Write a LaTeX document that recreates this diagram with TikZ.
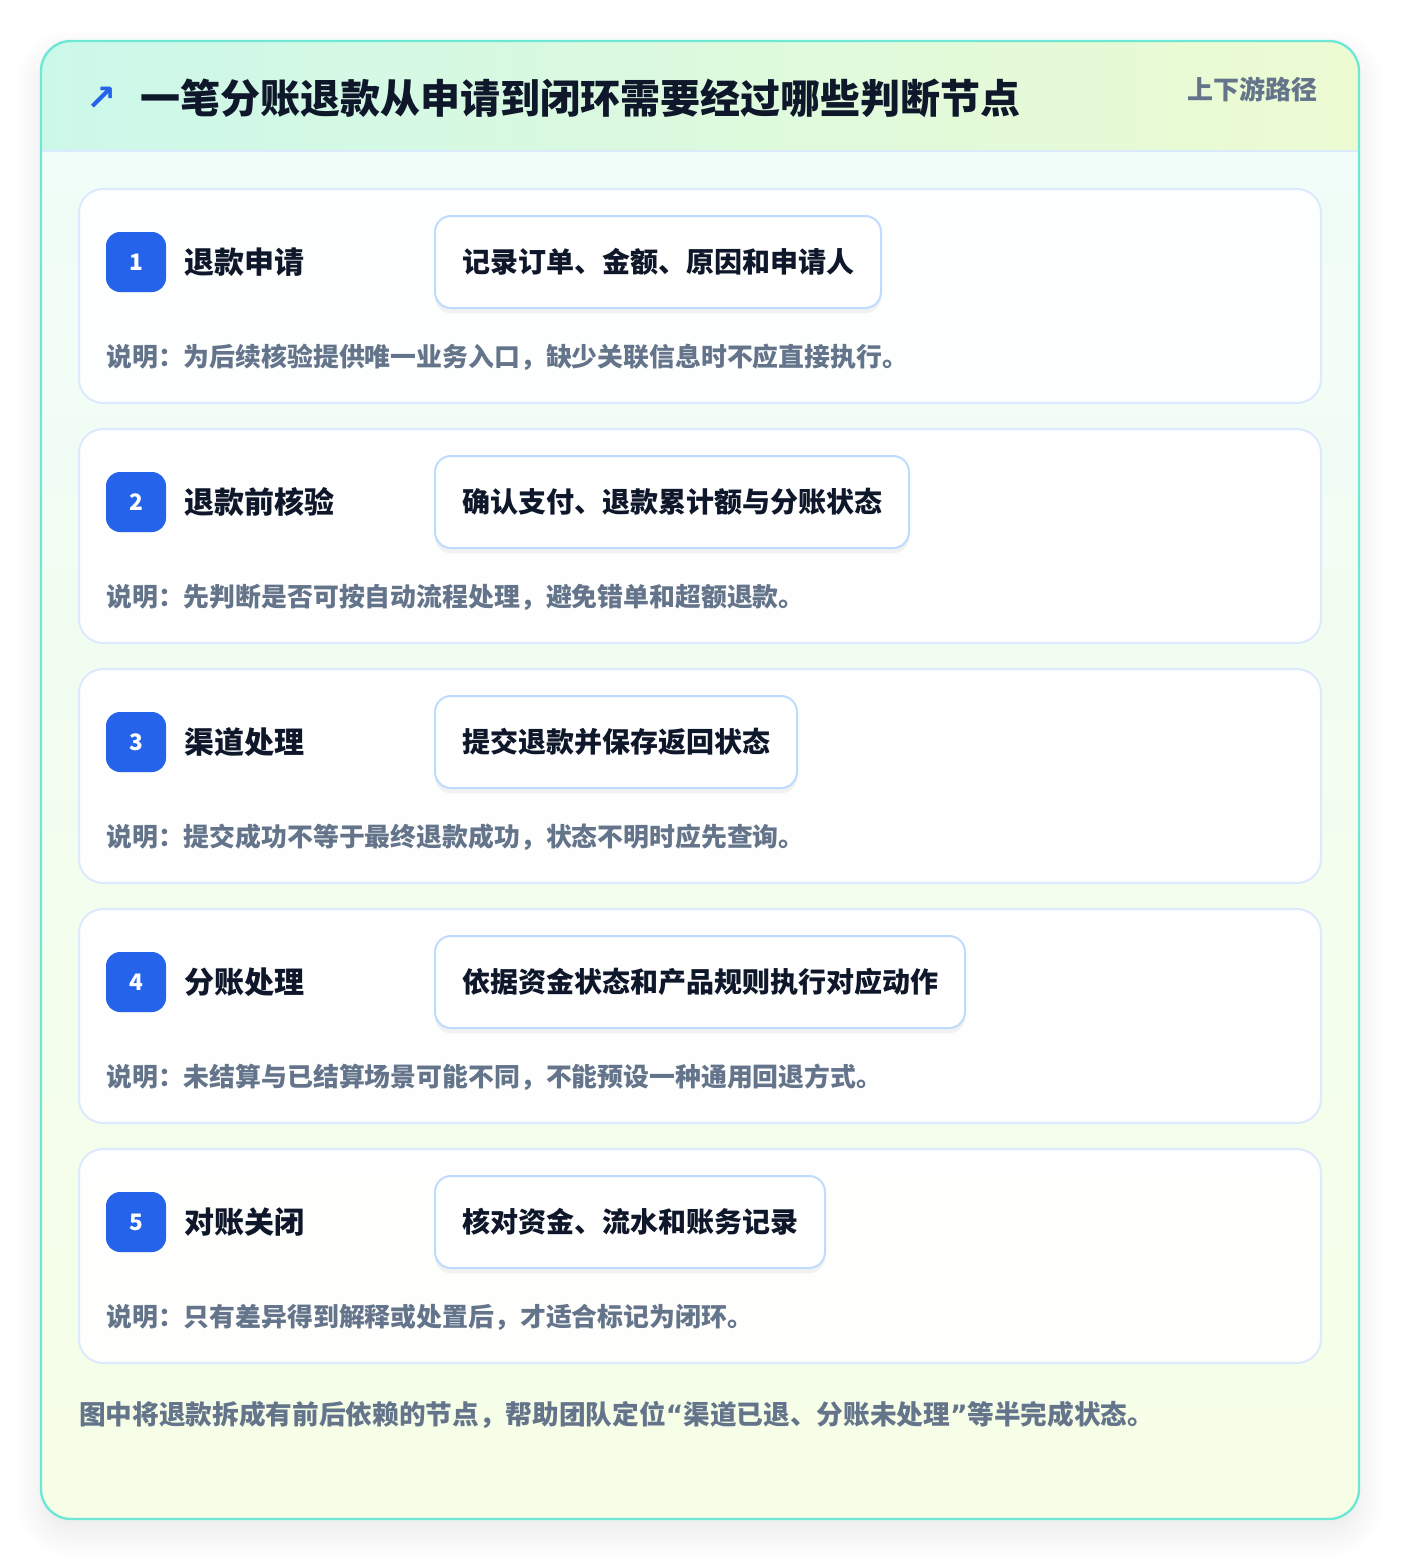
\documentclass[tikz,border=0pt]{standalone}
\usepackage{fontspec}
\setmainfont{Noto Sans CJK SC}
\newfontfamily\symfont{DejaVu Sans}
\usetikzlibrary{shadows,shadows.blur}
\definecolor{ink}{HTML}{0F172A}
\definecolor{muted}{HTML}{64748B}
\definecolor{blue1}{HTML}{2563EB}
\definecolor{rim}{HTML}{6EE7D5}
\definecolor{hdrL}{HTML}{CCF8EA}
\definecolor{hdrR}{HTML}{EDFBD2}
\definecolor{bodyT}{HTML}{F0FDF8}
\definecolor{bodyB}{HTML}{F6FEE6}
\definecolor{hdrline}{HTML}{DBEAFE}
\definecolor{cardline}{HTML}{DBEAFE}
\definecolor{actline}{HTML}{BFDBFE}
\newcommand{\fsz}[1]{\fontsize{#1}{1.2\dimexpr#1\relax}\selectfont}
\newcommand{\openq}{{\symfont\bfseries “}}
\newcommand{\closeq}{{\symfont\bfseries ”}}
\begin{document}
\begin{tikzpicture}[x=0.75pt,y=-0.75pt,
  card/.style={draw=cardline, line width=1.5pt, fill=white, fill opacity=.9, text opacity=1, rounded corners=18pt, minimum width=931.5pt, minimum height=160.5pt, inner sep=0pt},
  badge/.style={fill=blue1, rounded corners=10.5pt, minimum size=45pt, inner sep=0pt, text=white, font=\bfseries\fsz{17pt}},
  steptitle/.style={anchor=west, inner sep=0pt, text=ink, font=\bfseries\fsz{22.5pt}},
  action/.style={anchor=west, draw=actline, line width=1.5pt, fill=white, rounded corners=12pt, minimum height=69pt, inner xsep=20.25pt, inner ysep=0pt, outer sep=0pt, text=ink, font=\bfseries\fsz{21pt}, drop shadow={shadow xshift=0pt, shadow yshift=-4pt, fill=black, opacity=.05}},
  note/.style={anchor=west, inner sep=0pt, text=muted, font=\bfseries\fsz{19.4pt}}
]
\useasboundingbox (0,0) rectangle (1400,1560);
% outer panel
\fill[white, rounded corners=22.5pt, blur shadow={shadow xshift=0pt, shadow yshift=-10pt, shadow blur radius=20pt, shadow blur steps=15, shadow opacity=9}] (41,41) rectangle (1359,1519);
\begin{scope}
\clip[rounded corners=22.5pt] (41,41) rectangle (1359,1519);
\shade[left color=hdrL, right color=hdrR] (41,41) rectangle (1359,151);
\shade[top color=bodyT, bottom color=bodyB] (41,151) rectangle (1359,1519);
\end{scope}
\draw[hdrline, line width=1.5pt] (41,151) -- (1359,151);
\draw[rim, line width=1.8pt, rounded corners=22.5pt] (41,41) rectangle (1359,1519);
% header
\node[text=blue1, inner sep=0pt, font=\symfont\bfseries\fsz{27pt}] (icon) at (102,99) {↗};
\node[anchor=west, inner sep=0pt, text=ink, font=\bfseries\fsz{30pt}] (title) at (140,98) {一笔分账退款从申请到闭环需要经过哪些判断节点};
\node[anchor=east, inner sep=0pt, text=muted, font=\bfseries\fsz{19.5pt}] (tag) at (1318,89) {上下游路径};
% step 1
\node[card] (card1) at (700,296) {};
\node[badge] (badge1) at (136,262) {1};
\node[steptitle] (title1) at (184,262) {退款申请};
\node[action] (act1) at (435,262) {记录订单、金额、原因和申请人};
\node[note] (note1) at (106,357) {说明：为后续核验提供唯一业务入口，缺少关联信息时不应直接执行。};
% step 2
\node[card] (card2) at (700,536) {};
\node[badge] (badge2) at (136,502) {2};
\node[steptitle] (title2) at (184,502) {退款前核验};
\node[action] (act2) at (435,502) {确认支付、退款累计额与分账状态};
\node[note] (note2) at (106,597) {说明：先判断是否可按自动流程处理，避免错单和超额退款。};
% step 3
\node[card] (card3) at (700,776) {};
\node[badge] (badge3) at (136,742) {3};
\node[steptitle] (title3) at (184,742) {渠道处理};
\node[action] (act3) at (435,742) {提交退款并保存返回状态};
\node[note] (note3) at (106,837) {说明：提交成功不等于最终退款成功，状态不明时应先查询。};
% step 4
\node[card] (card4) at (700,1016) {};
\node[badge] (badge4) at (136,982) {4};
\node[steptitle] (title4) at (184,982) {分账处理};
\node[action] (act4) at (435,982) {依据资金状态和产品规则执行对应动作};
\node[note] (note4) at (106,1077) {说明：未结算与已结算场景可能不同，不能预设一种通用回退方式。};
% step 5
\node[card] (card5) at (700,1256) {};
\node[badge] (badge5) at (136,1222) {5};
\node[steptitle] (title5) at (184,1222) {对账关闭};
\node[action] (act5) at (435,1222) {核对资金、流水和账务记录};
\node[note] (note5) at (106,1317) {说明：只有差异得到解释或处置后，才适合标记为闭环。};
% footer
\node[anchor=west, inner sep=0pt, text=muted, font=\bfseries\fsz{20pt}] (summary) at (79,1415) {图中将退款拆成有前后依赖的节点，帮助团队定位\openq 渠道已退、分账未处理\closeq 等半完成状态。};
\end{tikzpicture}
\end{document}
